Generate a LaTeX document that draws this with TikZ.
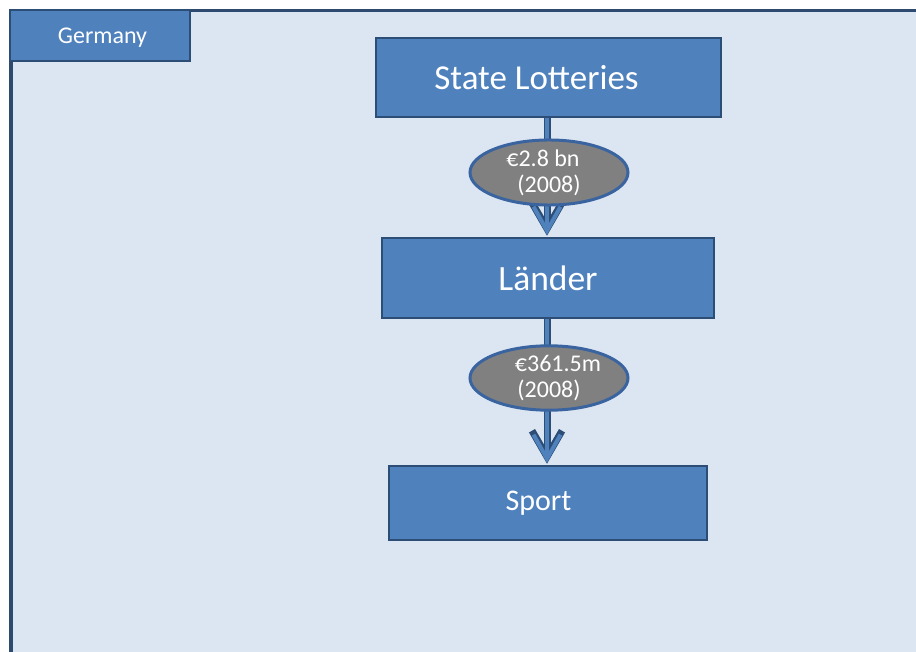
\documentclass[tikz,border=0pt]{standalone}
\usepackage{fontspec}
\setmainfont{Carlito}
\usetikzlibrary{arrows.meta,shapes.geometric}
\definecolor{panelfill}{HTML}{DCE6F2}
\definecolor{paneledge}{HTML}{2E4A6E}
\definecolor{boxfill}{HTML}{4F81BD}
\definecolor{boxedge}{HTML}{2C4D75}
\definecolor{ovalfill}{HTML}{808080}
\definecolor{ovaledge}{HTML}{3A64A0}
\tikzset{
  flowbox/.style={draw=boxedge, fill=boxfill, line width=2.5pt, inner sep=0pt,
    text=white, anchor=center},
  amount/.style={ellipse, draw=ovaledge, fill=ovalfill, line width=3pt,
    inner sep=0pt, minimum width=158pt, minimum height=64pt, text=white,
    align=center, font=\fontsize{24}{26}\selectfont},
  flowshade/.style={draw=boxedge, line width=7pt,
    -{Straight Barb[length=26pt, width=30pt, line width=7pt]}},
  flowarrow/.style={draw=boxfill, line width=4pt,
    -{Straight Barb[length=24pt, width=27pt, line width=4pt]}},
}
\begin{document}
\begin{tikzpicture}[x=1pt, y=-1pt]
  \useasboundingbox (0,0) rectangle (916,652);
  \fill[white] (0,0) rectangle (916,652);
  % country panel, running off the right and bottom edges
  \begin{scope}
    \clip (0,0) rectangle (916,652);
    \draw[paneledge, fill=panelfill, line width=3.5pt] (11,10.5) rectangle (940,680);
  \end{scope}
  \node[flowbox, minimum width=180pt, minimum height=51pt,
        font=\fontsize{24}{28}\selectfont] (country) at (100,35.5) {\hspace*{5pt}\raisebox{-8.5pt}[0pt][0pt]{Germany}};
  % flow of lottery money
  \node[flowbox, minimum width=345pt, minimum height=79pt,
        font=\fontsize{35}{40}\selectfont] (lotteries) at (548.5,77.5) {State Lotteries\hspace*{24pt}};
  \node[flowbox, minimum width=332pt, minimum height=80pt,
        font=\fontsize{35.5}{40}\selectfont] (laender) at (548,278) {Länder};
  \node[flowbox, minimum width=318pt, minimum height=74pt,
        font=\fontsize{30}{34}\selectfont] (sport) at (548,503) {Sport\hspace*{19pt}};
  \coordinate (a1) at (547,117);
  \coordinate (a2) at (547,238);
  \coordinate (b1) at (547,318);
  \coordinate (b2) at (547,466);
  \draw[flowshade, shorten >=1pt] (lotteries.south -| a1) -- (laender.north -| a2);
  \draw[flowarrow, shorten >=2pt] (lotteries.south -| a1) -- (laender.north -| a2);
  \draw[flowshade, shorten >=1pt] (laender.south -| b1) -- (sport.north -| b2);
  \draw[flowarrow, shorten >=2pt] (laender.south -| b1) -- (sport.north -| b2);
  \node[amount] (share) at (549,172.5) {\hspace*{-12pt}€2.8 bn\\(2008)};
  \node[amount] (grant) at (549,378) {\hspace*{18pt}€361.5m\\(2008)};
\end{tikzpicture}
\end{document}
